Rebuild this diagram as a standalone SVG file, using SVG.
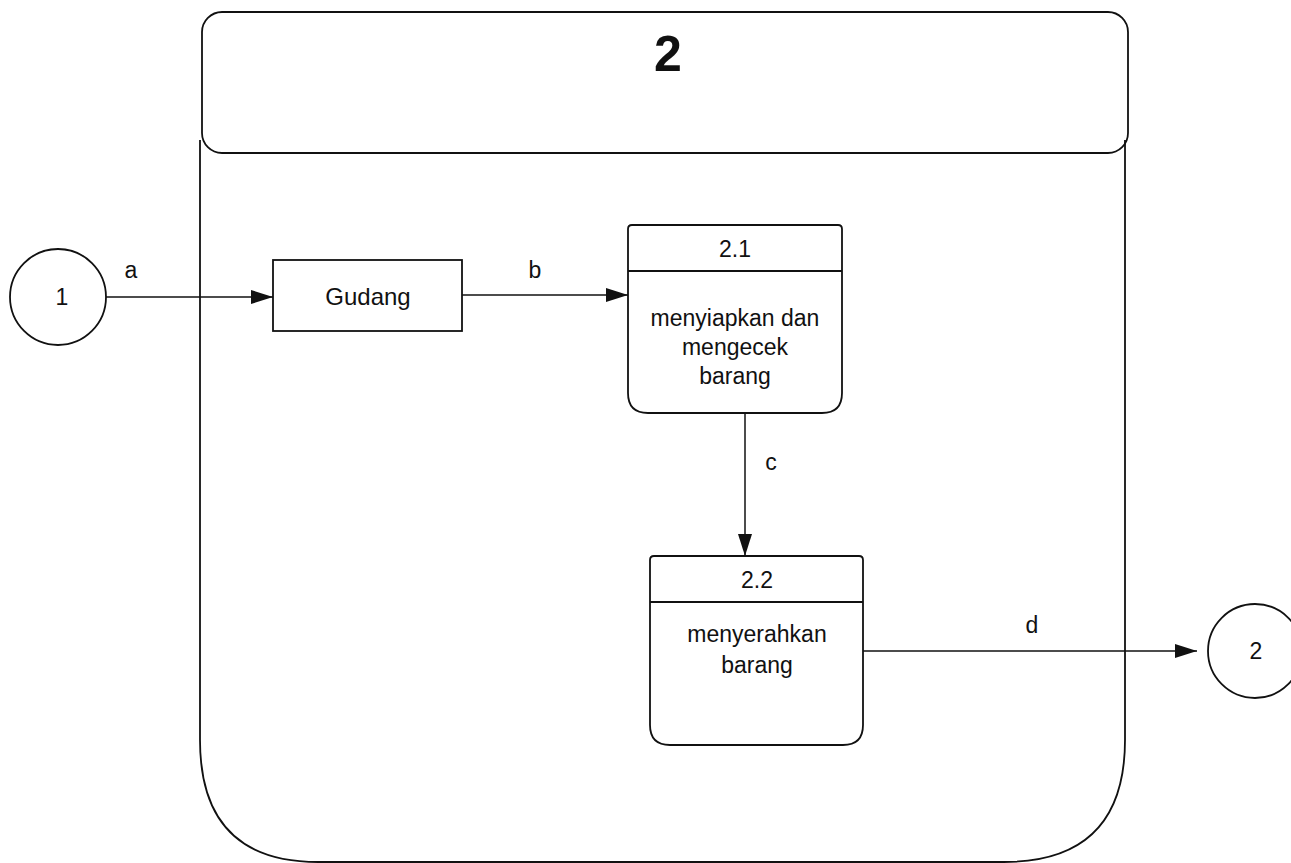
<svg xmlns="http://www.w3.org/2000/svg" width="1291" height="863" viewBox="0 0 1291 863">
  <style>
    .shape { fill: none; stroke: #111; stroke-width: 1.8; }
    .flow { fill: none; stroke: #111; stroke-width: 1.5; }
    .txt { font-family: "Liberation Sans", Arial, sans-serif; font-size: 23px; fill: #111; text-anchor: middle; dominant-baseline: central; }
    .big { font-size: 24px; }
    .title { font-family: "Liberation Sans", Arial, sans-serif; font-size: 50px; font-weight: bold; fill: #111; text-anchor: middle; }
  </style>
  <defs>
    <marker id="arrow" viewBox="0 0 22 14" refX="22" refY="7" markerWidth="22" markerHeight="14" markerUnits="userSpaceOnUse" orient="auto">
      <path d="M0,0 L22,7 L0,14 Z" fill="#111"/>
    </marker>
  </defs>
  <rect width="1291" height="863" fill="#fff"/>

  <!-- process 2 container -->
  <g id="process-2">
    <path class="shape" d="M200,140 L200,740 Q200,862 318,862 L1004,862 Q1125,862 1125,740 L1125,140"/>
    <rect class="shape" x="202" y="12" width="926" height="141" rx="20" ry="20" fill="#fff"/>
    <text class="title" x="668" y="71">2</text>
  </g>

  <!-- external entities -->
  <g id="entity-1">
    <circle class="shape" cx="58" cy="297" r="48"/>
    <text class="txt" x="62" y="297">1</text>
  </g>
  <g id="entity-2">
    <circle class="shape" cx="1255" cy="651" r="47"/>
    <text class="txt" x="1256" y="651">2</text>
  </g>

  <!-- data store -->
  <g id="gudang">
    <rect class="shape" x="273" y="260" width="189" height="71"/>
    <text class="txt big" x="368" y="296">Gudang</text>
  </g>

  <!-- sub-process 2.1 -->
  <g id="process-2-1">
    <path class="shape" d="M632,225 L838,225 Q842,225 842,229 L842,393 Q842,413 822,413 L648,413 Q628,413 628,393 L628,229 Q628,225 632,225 Z"/>
    <line class="shape" x1="628" y1="271" x2="842" y2="271"/>
    <text class="txt" x="735" y="249">2.1</text>
    <text class="txt" x="735" y="318">menyiapkan dan</text>
    <text class="txt" x="735" y="347">mengecek</text>
    <text class="txt" x="735" y="376">barang</text>
  </g>

  <!-- sub-process 2.2 -->
  <g id="process-2-2">
    <path class="shape" d="M654,556 L859,556 Q863,556 863,560 L863,725 Q863,745 843,745 L670,745 Q650,745 650,725 L650,560 Q650,556 654,556 Z"/>
    <line class="shape" x1="650" y1="602" x2="863" y2="602"/>
    <text class="txt" x="757" y="580">2.2</text>
    <text class="txt" x="757" y="634">menyerahkan</text>
    <text class="txt" x="757" y="665">barang</text>
  </g>

  <!-- data flows -->
  <g id="connectors">
    <line class="flow" x1="106" y1="297" x2="273" y2="297" marker-end="url(#arrow)"/>
    <text class="txt" x="131" y="270">a</text>
    <line class="flow" x1="462" y1="295" x2="628" y2="295" marker-end="url(#arrow)"/>
    <text class="txt" x="535" y="270">b</text>
    <line class="flow" x1="745" y1="413" x2="745" y2="556" marker-end="url(#arrow)"/>
    <text class="txt" x="771" y="462">c</text>
    <line class="flow" x1="863" y1="651" x2="1197" y2="651" marker-end="url(#arrow)"/>
    <text class="txt" x="1032" y="625">d</text>
  </g>
</svg>
